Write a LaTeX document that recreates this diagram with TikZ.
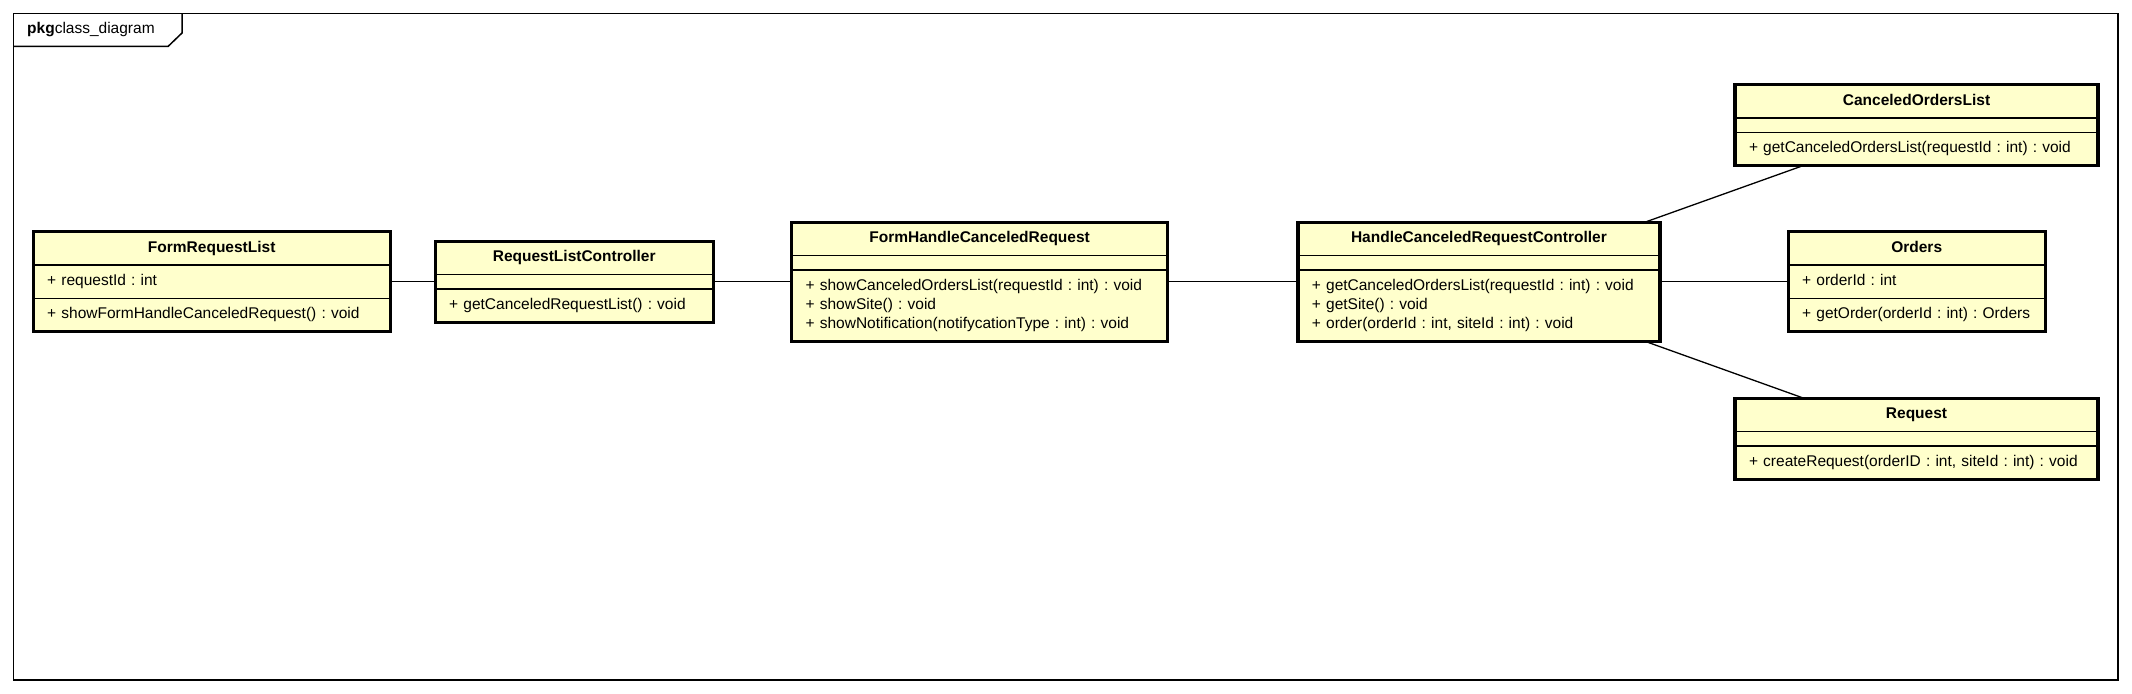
\documentclass[tikz,border=0pt]{standalone}
\usepackage{fontspec}
\setmainfont{Liberation Sans}
\usepackage{tikz}
\usetikzlibrary{shapes.multipart,positioning}

\definecolor{classfill}{HTML}{FFFFCC}
\newcommand{\hdr}[1]{\makebox[\hsize][c]{\bfseries\strut#1}}
\frenchspacing

\begin{document}
\begin{tikzpicture}[x=1pt, y=-1pt,
  every node/.style={font=\fontsize{15.5}{19}\selectfont},
  umlclass/.style={rectangle split, rectangle split parts=3, draw, line width=1.3pt, fill=classfill, align=left, inner xsep=14pt, inner ysep=6.5pt, outer sep=0pt},
  assoc/.style={line width=1.3pt}]
\useasboundingbox (0,0) rectangle (2132,693);
% package frame
\draw[line width=1.5pt] (13.5,13.5) rectangle (2118,680);
\draw[line width=1.5pt] (13.5,46.5) -- (168,46.5) -- (182,33) -- (182,13.5);
\node[anchor=west, inner sep=0pt] (pkg) at (27,30) {\textbf{pkg}class\_diagram};

% classes
\node[umlclass, text width=329pt] (frl) at (211.7,281.7) {\hdr{FormRequestList}
  \nodepart{two}\strut+ requestId : int
  \nodepart{three}\strut+ showFormHandleCanceledRequest() : void};
\node[umlclass, text width=250pt, right=45pt of frl] (rlc) {\hdr{RequestListController}
  \nodepart{two}
  \nodepart{three}\strut+ getCanceledRequestList() : void};
\node[umlclass, text width=348pt, right=78.4pt of rlc] (fhcr) {\hdr{FormHandleCanceledRequest}
  \nodepart{two}
  \nodepart{three}\strut+ showCanceledOrdersList(requestId : int) : void\\
  + showSite() : void\\
  + showNotification(notifycationType : int) : void\strut};
\node[umlclass, text width=334pt, right=130.3pt of fhcr] (hcrc) {\hdr{HandleCanceledRequestController}
  \nodepart{two}
  \nodepart{three}\strut+ getCanceledOrdersList(requestId : int) : void\\
  + getSite() : void\\
  + order(orderId : int, siteId : int) : void\strut};
\node[umlclass, text width=229pt, right=128.3pt of hcrc] (ord) {\hdr{Orders}
  \nodepart{two}\strut+ orderId : int
  \nodepart{three}\strut+ getOrder(orderId : int) : Orders};
\node[umlclass, text width=335pt, anchor=west] (col) at (1735,125) {\hdr{CanceledOrdersList}
  \nodepart{two}
  \nodepart{three}\strut+ getCanceledOrdersList(requestId : int) : void};
\node[umlclass, text width=335pt, anchor=west] (req) at (1735,438.7) {\hdr{Request}
  \nodepart{two}
  \nodepart{three}\strut+ createRequest(orderID : int, siteId : int) : void};

% associations
\draw[assoc] (frl) -- (rlc);
\draw[assoc] (rlc) -- (fhcr);
\draw[assoc] (fhcr) -- (hcrc);
\draw[assoc] (hcrc) -- (ord);
\draw[assoc] (hcrc) -- (col);
\draw[assoc] (hcrc) -- (req);

% heavy outlines
\foreach \n in {frl,rlc,fhcr,hcrc,ord,col,req}
  \draw[line width=3.3pt] (\n.north west) rectangle (\n.south east);
\end{tikzpicture}
\end{document}
